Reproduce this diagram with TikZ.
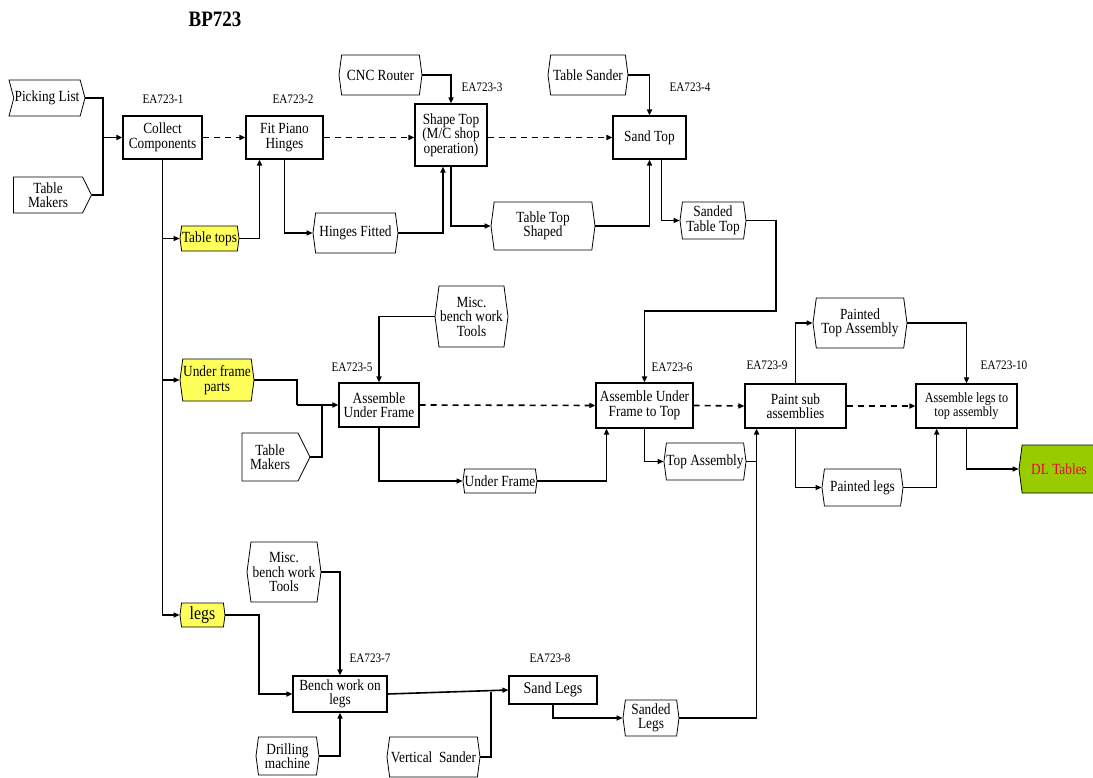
\documentclass[tikz,border=0pt]{standalone}
\usepackage{fontspec}
\setmainfont{Liberation Serif}[FakeStretch=0.86]
\usetikzlibrary{shapes.symbols,arrows.meta,calc}
\definecolor{noteyellow}{RGB}{255,255,90}
\definecolor{leafgreen}{RGB}{153,204,0}
\definecolor{tagred}{RGB}{235,0,60}
\begin{document}
\begin{tikzpicture}[x=1pt,y=-1pt,
  every node/.style={font=\fontsize{15.5}{14.5}\selectfont, align=center, inner sep=0pt},
  proc/.style={draw, line width=1.1pt, rectangle},
  data/.style={draw, line width=0.8pt, shape=signal, signal to=east and west, signal pointer angle=165},
  flag/.style={data, fill=noteyellow},
  tag/.style={font=\fontsize{13}{13}\selectfont},
  link/.style={line width=1.6pt, -{Triangle[length=6pt,width=5pt]}},
  plain/.style={line width=1.6pt},
  seq/.style={line width=1.6pt, dash pattern=on 6pt off 5pt, -{Triangle[length=6pt,width=5pt]}},
]
\useasboundingbox (0,0) rectangle (1093,778);

% title
\node[font=\bfseries\fontsize{22}{22}\selectfont] (title) at (215,19) {BP723};

% operation boxes
\node[proc, minimum width=79, minimum height=43] (collect) at (162.5,137.5) {Collect\\Components};
\node[proc, minimum width=77, minimum height=43] (fit) at (284.5,137.5) {Fit Piano\\Hinges};
\node[proc, minimum width=72, minimum height=62] (shape) at (451,135) {Shape Top\\(M/C shop\\operation)};
\node[proc, minimum width=73, minimum height=43] (sand) at (649.5,137.5) {Sand Top};
\node[proc, minimum width=80, minimum height=44] (auf) at (379,405) {Assemble\\Under Frame};
\node[proc, minimum width=97, minimum height=45] (auft) at (644.5,405.5) {Assemble Under\\Frame to Top};
\node[proc, minimum width=101, minimum height=44] (paint) at (795.5,406) {Paint sub\\assemblies};
\node[proc, minimum width=101, minimum height=44, font=\fontsize{14.2}{14.5}\selectfont] (alta) at (966.5,406) {Assemble legs to\\top assembly};
\node[proc, minimum width=94, minimum height=36] (bench) at (340,694) {Bench work on\\legs};
\node[proc, minimum width=88, minimum height=28, font=\fontsize{16.3}{16}\selectfont] (sandlegs) at (553,690) {Sand Legs};

% operation codes
\node[tag] (t1) at (163,99) {EA723-1};
\node[tag] (t2) at (293,99) {EA723-2};
\node[tag] (t3) at (482,87) {EA723-3};
\node[tag] (t4) at (690,87) {EA723-4};
\node[tag] (t5) at (352,367) {EA723-5};
\node[tag] (t6) at (672,367) {EA723-6};
\node[tag] (t9) at (767,365) {EA723-9};
\node[tag] (t10) at (1004,365) {EA723-10};
\node[tag] (t7) at (370,658) {EA723-7};
\node[tag] (t8) at (550,658) {EA723-8};

% inputs, resources and outputs
\node[data, signal from=west, signal to=east, signal pointer angle=150, minimum width=76, minimum height=36] (pick) at (47,98) {Picking List};
\node[data, signal to=east, signal from=nowhere, signal pointer angle=127, minimum width=78, minimum height=36] (tm1) at (48,195) {Table\\Makers};
\node[data, minimum width=83, minimum height=40] (cnc) at (380.5,75) {CNC Router};
\node[data, minimum width=80, minimum height=40] (tsander) at (588,75) {Table Sander};
\node[flag, minimum width=59, minimum height=25] (tops) at (209.5,238.5) {Table tops};
\node[data, minimum width=85, minimum height=40] (hinges) at (355.5,233) {Hinges Fitted};
\node[data, minimum width=104, minimum height=48] (tts) at (543,226) {Table Top\\Shaped};
\node[data, minimum width=66, minimum height=37] (stt) at (713,220.5) {Sanded\\Table Top};
\node[flag, minimum width=74, minimum height=42] (ufp) at (217,380) {Under frame\\parts};
\node[data, minimum width=73, minimum height=61] (misc1) at (471.5,316.5) {Misc.\\bench work\\Tools};
\node[data, signal to=east, signal from=nowhere, signal pointer angle=127, minimum width=68, minimum height=48] (tm2) at (270,457) {Table\\Makers};
\node[data, minimum width=74, minimum height=24] (uf) at (500,481) {Under Frame};
\node[data, minimum width=94, minimum height=50] (pta) at (860,323) {Painted\\Top Assembly};
\node[data, minimum width=80, minimum height=37] (ta) at (705,461.5) {Top Assembly};
\node[data, minimum width=81, minimum height=37] (pl) at (862.5,487.5) {Painted legs};
\node[data, fill=leafgreen, text=tagred, minimum width=80, minimum height=48] (dl) at (1059,469) {DL Tables};
\node[data, minimum width=74, minimum height=60] (misc2) at (284,572) {Misc.\\bench work\\Tools};
\node[flag, minimum width=45, minimum height=24, font=\fontsize{18.5}{18}\selectfont] (legs) at (202.5,615) {legs};
\node[data, minimum width=63, minimum height=38] (drill) at (287.5,756) {Drilling\\machine};
\node[data, minimum width=93, minimum height=40] (vsander) at (433.5,757) {Vertical~ Sander};
\node[data, minimum width=56, minimum height=36] (sl) at (651,718) {Sanded\\Legs};

% junction points
\coordinate (j1) at (103,137.5);
\coordinate (j2) at (776,311);
\coordinate (j3) at (297,405);
\coordinate (j4) at (322,405);
\coordinate (j5) at (259,694);
\coordinate (j6) at (491,691.5);
\coordinate (pin) at ($(paint.south west)!0.119!(paint.south east)$);

% top row
\draw[plain] (pick.east) -| (j1);
\draw[plain] (tm1.east) -| (j1);
\draw[link] (j1) -- (collect.west);
\draw[seq] (collect.east) -- (fit.west);
\draw[seq] (fit.east) -- (shape.west |- fit.east);
\draw[seq] (shape.east |- sand.west) -- (sand.west);
\draw[link] (collect.south) |- (legs.west);
\draw[link] (collect.south |- tops.west) -- (tops.west);
\draw[link] (collect.south |- ufp.west) -- (ufp.west);
\draw[link] (tops.east) -| ($(fit.south west)!0.18!(fit.south east)$);
\draw[link] (fit.south) |- (hinges.west);
\draw[link] (cnc.east) -| (shape.north);
\draw[link] (hinges.east) -| ($(shape.south west)!0.39!(shape.south east)$);
\draw[link] (shape.south) |- (tts.west);
\draw[link] (tsander.east) -| (sand.north);
\draw[link] (tts.east) -| (sand.south);
\draw[link] ($(sand.south west)!0.66!(sand.south east)$) |- (stt.west);
\draw[link] (stt.east) -| (j2) -| (auft.north);

% under frame row
\draw[plain] (ufp.east) -| (j3);
\draw[plain] (tm2.east) -| (j4);
\draw[link] (j3) -- (auf.west);
\draw[link] (misc1.west) -| (auf.north);
\draw[seq] (auf.east) -- (auft.west);
\draw[link] (auf.south) |- (uf.west);
\draw[link] (uf.east) -| ($(auft.south west)!0.113!(auft.south east)$);
\draw[link] (auft.south) |- (ta.west);
\draw[seq] (auft.east) -- (paint.west);
\draw[plain] (ta.east) -- (ta.east -| pin);
\draw[link] (paint.north) |- (pta.west);
\draw[link] (pta.east) -| (alta.north);
\draw[link] (paint.south) |- (pl.west);
\draw[link] (pl.east) -| ($(alta.south west)!0.208!(alta.south east)$);
\draw[seq] (paint.east) -- (alta.west);
\draw[link] (alta.south) |- (dl.west);

% legs row
\draw[link] (misc2.east) -| (bench.north);
\draw[link] (legs.east) -| (j5) -- (bench.west);
\draw[link] (drill.east) -| (bench.south);
\draw[link] (bench.east) -- (sandlegs.west);
\draw[plain] (vsander.east) -| (j6);
\draw[link] (sandlegs.south) |- (sl.west);
\draw[link] (sl.east) -| (pin);
\end{tikzpicture}
\end{document}
